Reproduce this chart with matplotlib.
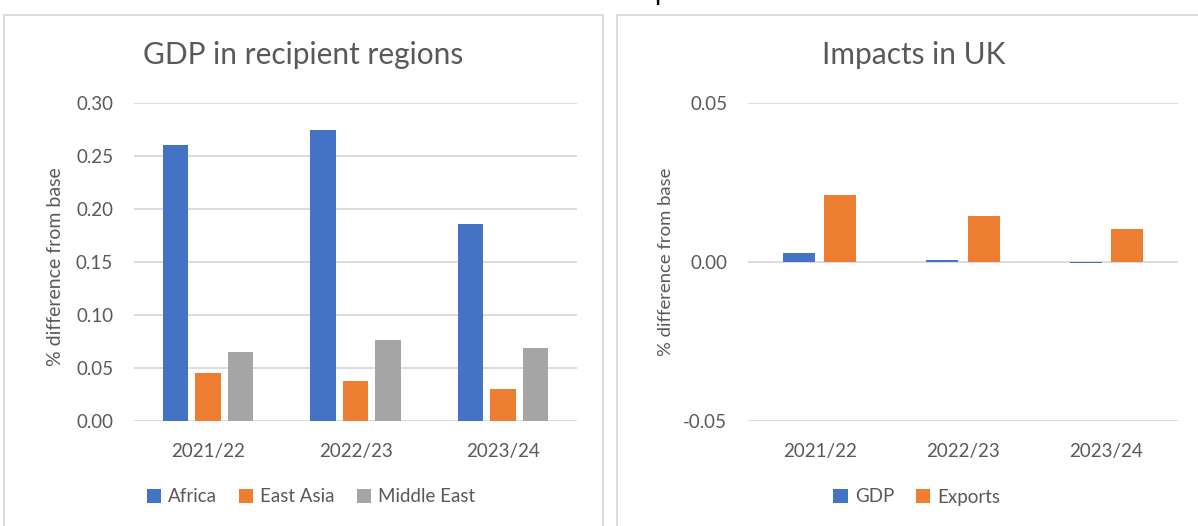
"""Two-panel bar chart: GDP in recipient regions and impacts in UK."""

import matplotlib.pyplot as plt
from matplotlib.patches import Rectangle
import numpy as np

plt.rcParams["font.family"] = ["Lato", "DejaVu Sans"]

years = ["2021/22", "2022/23", "2023/24"]

# left panel: % difference from base
africa = [0.260, 0.275, 0.186]
east_asia = [0.045, 0.038, 0.030]
middle_east = [0.065, 0.076, 0.069]
left_ticks = [0.00, 0.05, 0.10, 0.15, 0.20, 0.25, 0.30]

# right panel: % difference from base
uk_gdp = [0.0027, 0.0005, -0.0003]
uk_exports = [0.0211, 0.0146, 0.0104]
right_ticks = [-0.05, 0.00, 0.05]

BLUE = "#4472c4"
ORANGE = "#ed7d31"
GREY = "#a5a5a5"
GRID = "#d9d9d9"
TEXT = "#595959"
FS = 13.5

W, H = 1198, 526
fig = plt.figure(figsize=(W / 100, H / 100), dpi=100)


def fig_rect(x0, y0, x1, y1):
    """Convert pixel box (top-left origin) to figure fraction rect."""
    return [x0 / W, 1 - y1 / H, (x1 - x0) / W, (y1 - y0) / H]


# panel borders
for x0, x1 in [(4, 603), (617, 1210)]:
    fig.patches.append(Rectangle((x0 / W, -0.05), (x1 - x0) / W, 1.05 - 15 / H,
                                 transform=fig.transFigure, fill=False,
                                 edgecolor=GRID, linewidth=1.3))

# cut-off title fragment at the very top
fig.text(0.5525, 1.0, "p", fontsize=19, va="baseline", ha="center", color="black")


def style_axis(ax, ticks, label_x, label_y, label_fs):
    ax.set_yticks(ticks)
    ax.set_yticklabels([f"{t:.2f}" for t in ticks], fontsize=FS, color=TEXT)
    ax.set_ylim(ticks[0], ticks[-1])
    ax.grid(axis="y", color=GRID, linewidth=1.3)
    ax.set_axisbelow(True)
    for s in ax.spines.values():
        s.set_visible(False)
    ax.tick_params(length=0)
    ax.tick_params(axis="y", pad=15)
    ax.tick_params(axis="x", pad=16, labelsize=FS, labelcolor=TEXT)
    ax.set_xlim(-0.5, len(years) - 0.5)
    ax.set_xticks(range(len(years)))
    ax.set_xticklabels(years)
    ax.set_ylabel("% difference from base", fontsize=label_fs, color=TEXT)
    ax.yaxis.set_label_coords(label_x, label_y)


def add_legend(ax, cx):
    fig.legend(*ax.get_legend_handles_labels(), loc="center",
               bbox_to_anchor=(cx / W, 1 - 497 / H), ncol=3, frameon=False,
               fontsize=FS, handlelength=0.75, handleheight=0.75,
               columnspacing=1.15, handletextpad=0.4, labelcolor=TEXT)


x = np.arange(len(years))

ax1 = fig.add_axes(fig_rect(134, 103, 577, 421))
ax1.bar(x - 0.22, africa, width=0.172, color=BLUE, label="Africa")
ax1.bar(x, east_asia, width=0.172, color=ORANGE, label="East Asia")
ax1.bar(x + 0.22, middle_east, width=0.172, color=GREY, label="Middle East")
style_axis(ax1, left_ticks, (64 - 134) / 443, (421 - 267) / 318, 14)
fig.text(303 / W, 1 - 55 / H, "GDP in recipient regions", fontsize=21.5,
         color=TEXT, ha="center", va="center")
add_legend(ax1, 311)

ax2 = fig.add_axes(fig_rect(748, 103, 1178, 421))
ax2.bar(x - 0.144, uk_gdp, width=0.225, color=BLUE, label="GDP")
ax2.bar(x + 0.144, uk_exports, width=0.225, color=ORANGE, label="Exports")
style_axis(ax2, right_ticks, (674 - 748) / 430, (421 - 262) / 318, 13.3)
fig.text(914 / W, 1 - 55 / H, "Impacts in UK", fontsize=21.5,
         color=TEXT, ha="center", va="center")
add_legend(ax2, 917)

fig.savefig("out.png", dpi=100)
